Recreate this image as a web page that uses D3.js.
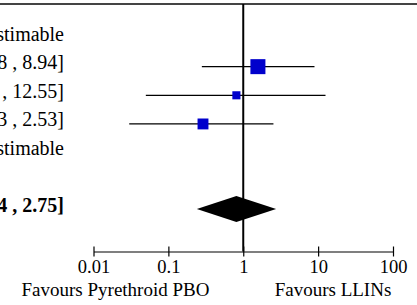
<!DOCTYPE html>
<html>
<head>
<meta charset="utf-8">
<script src="https://cdn.jsdelivr.net/npm/d3@7"></script>
<style>
  body { margin: 0; background: #fff; }
</style>
</head>
<body>
<div id="chart"></div>
<script>
// study rows (names sit off to the left, outside the crop)
const ciLabels = ["Not estimable", "1.57 [0.28 , 8.94]", "0.81 [0.05 , 12.55]", "0.29 [0.03 , 2.53]", "Not estimable"];
const estimates = [null, 1.57, 0.81, 0.29, null];
const lowers = [null, 0.28, 0.05, 0.03, null];
const uppers = [null, 8.94, 12.55, 2.53, null];
const weights = [null, 55, 16, 29];

const pooledLabel = "0.81 [0.24 , 2.75]";
const pooled = {est: 0.81, lo: 0.24, hi: 2.75};

const tickValues = [0.01, 0.1, 1, 10, 100];
const leftLabel = "Favours Pyrethroid PBO";
const rightLabel = "Favours LLINs";

const width = 417, height = 305;
const fontSize = 19;
const serif = '"Liberation Serif", "Times New Roman", serif';

let svg = d3.select('#chart').append('svg')
  .attr('width', width)
  .attr('height', height)
  .style('font-family', serif);

let x = d3.scaleLog().domain([0.01, 100]).range([93.5, 393]);
let y = d3.scaleLinear().domain([0, 4]).range([38, 152.6]);
let sq = d3.scaleSqrt().domain([0, 55]).range([0, 15]);
let axisY = 251.5;

// top rule
svg.append('line')
  .attr('x1', 0).attr('x2', width)
  .attr('y1', 4).attr('y2', 4)
  .attr('stroke', '#444').attr('stroke-width', 2);

// line of no effect
svg.append('line')
  .attr('x1', x(1)).attr('x2', x(1))
  .attr('y1', 4).attr('y2', axisY)
  .attr('stroke', '#000').attr('stroke-width', 2);

// estimate column text, right aligned (left part runs off the crop)
svg.selectAll('.ci-label')
  .data(ciLabels)
  .enter().append('text')
  .attr('class', 'ci-label')
  .attr('x', 64)
  .attr('y', (d, i) => y(i) + 2.5)
  .attr('text-anchor', 'end')
  .style('font-family', serif)
  .attr('font-size', 20)
  .text(d => d);

let rows = estimates.map((e, i) => ({e: e, lo: lowers[i], hi: uppers[i], w: weights[i], i: i}))
  .filter(d => d.e !== null);

svg.selectAll('.ci')
  .data(rows)
  .enter().append('line')
  .attr('class', 'ci')
  .attr('x1', d => x(d.lo)).attr('x2', d => x(d.hi))
  .attr('y1', d => y(d.i)).attr('y2', d => y(d.i))
  .attr('stroke', '#000').attr('stroke-width', 1.2);

svg.selectAll('.box')
  .data(rows)
  .enter().append('rect')
  .attr('class', 'box')
  .attr('x', d => x(d.e) - sq(d.w) / 2)
  .attr('y', d => y(d.i) - sq(d.w) / 2)
  .attr('width', d => sq(d.w))
  .attr('height', d => sq(d.w))
  .attr('fill', '#0000cc');

// pooled estimate
let py = 209;
svg.append('text')
  .attr('x', 64).attr('y', py + 2.5)
  .attr('text-anchor', 'end')
  .style('font-family', serif)
  .attr('font-size', 20)
  .attr('font-weight', 'bold')
  .text(pooledLabel);

svg.append('path')
  .attr('d', `M${x(pooled.lo)},${py} L${x(pooled.est)},${py - 13} L${x(pooled.hi)},${py} L${x(pooled.est)},${py + 13} Z`)
  .attr('fill', '#000');

// axis
let axis = d3.axisBottom(x)
  .tickValues(tickValues)
  .tickFormat(d => d3.format('')(d))
  .tickSize(0)
  .tickPadding(0);

let g = svg.append('g')
  .attr('transform', `translate(0,${axisY})`)
  .call(axis);
g.attr('font-family', null);
g.select('.domain').attr('stroke', '#000').attr('stroke-width', 1.2);
g.selectAll('.tick line').remove();
g.selectAll('.tick').append('line')
  .attr('y1', -5).attr('y2', 5)
  .attr('stroke', '#000').attr('stroke-width', 1.2);
g.selectAll('.tick text')
  .attr('dy', null)
  .attr('y', 21.5)
  .style('font-family', serif)
  .attr('font-size', 18.5)
  .attr('fill', '#000');

svg.append('text')
  .attr('x', 115.5)
  .attr('y', 296)
  .attr('text-anchor', 'middle')
  .style('font-family', serif)
  .attr('font-size', fontSize)
  .text(leftLabel);

svg.append('text')
  .attr('x', 333)
  .attr('y', 296)
  .attr('text-anchor', 'middle')
  .style('font-family', serif)
  .attr('font-size', fontSize)
  .text(rightLabel);
</script>
</body>
</html>
